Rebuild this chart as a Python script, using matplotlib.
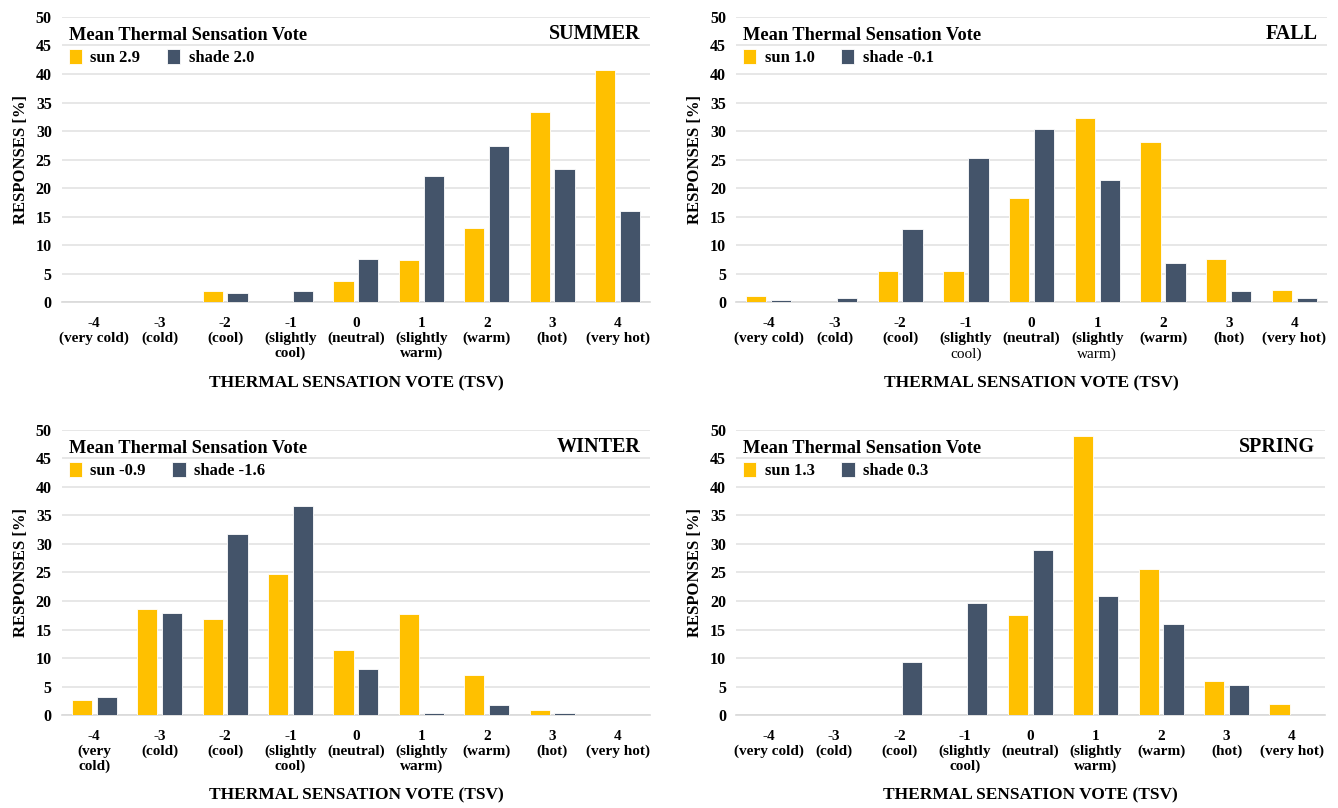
import matplotlib.pyplot as plt
import numpy as np

plt.rcParams['font.family'] = ['Liberation Serif', 'DejaVu Serif']
plt.rcParams['font.weight'] = 'bold'

# datos
votes = ["-4", "-3", "-2", "-1", "0", "1", "2", "3", "4"]
desc = ["(very cold)", "(cold)", "(cool)", "(slightly\ncool)", "(neutral)",
        "(slightly\nwarm)", "(warm)", "(hot)", "(very hot)"]
desc_winter = ["(very\ncold)", "(cold)", "(cool)", "(slightly\ncool)", "(neutral)",
               "(slightly\nwarm)", "(warm)", "(hot)", "(very hot)"]

summer_sun = [0, 0, 1.9, 0, 3.7, 7.4, 13.0, 33.3, 40.7]
summer_shade = [0, 0, 1.6, 2.0, 7.5, 22.2, 27.4, 23.4, 15.9]
fall_sun = [1.1, 0, 5.4, 5.4, 18.3, 32.3, 28.0, 7.5, 2.2]
fall_shade = [0.4, 0.8, 12.8, 25.2, 30.4, 21.4, 6.8, 1.9, 0.8]
winter_sun = [2.6, 18.6, 16.8, 24.8, 11.4, 17.7, 7.1, 0.9, 0]
winter_shade = [3.1, 17.9, 31.7, 36.6, 8.0, 0.4, 1.7, 0.4, 0]
spring_sun = [0, 0, 0, 0, 17.6, 49.0, 25.6, 5.9, 1.9]
spring_shade = [0, 0, 9.3, 19.6, 28.9, 20.9, 16.0, 5.3, 0]

seasons = ["SUMMER", "FALL", "WINTER", "SPRING"]
mean_sun = ["2.9", "1.0", "-0.9", "1.3"]
mean_shade = ["2.0", "-0.1", "-1.6", "0.3"]

sun_color = "#FFC000"
shade_color = "#44546A"

fig = plt.figure(figsize=(13.38, 8.08), dpi=100)
positions = [[0.046, 0.626, 0.440, 0.353],
             [0.550, 0.626, 0.442, 0.353],
             [0.046, 0.115, 0.440, 0.353],
             [0.550, 0.115, 0.440, 0.353]]
sun_data = [summer_sun, fall_sun, winter_sun, spring_sun]
shade_data = [summer_shade, fall_shade, winter_shade, spring_shade]

x = np.arange(len(votes))
w = 0.31
for k in range(4):
    ax = fig.add_axes(positions[k])
    ax.bar(x - 0.19, sun_data[k], w, color=sun_color, edgecolor="white", linewidth=0.6,
           label=f"sun {mean_sun[k]}", zorder=3)
    ax.bar(x + 0.19, shade_data[k], w, color=shade_color, edgecolor="white", linewidth=0.6,
           label=f"shade {mean_shade[k]}", zorder=3)
    ax.set_xlim(-0.5, 8.5)
    ax.set_ylim(0, 50)
    ax.set_yticks(range(0, 51, 5))
    ax.grid(axis="y", color="#E3E3E3", linewidth=1.2, zorder=0)
    for s in ["top", "right", "left"]:
        ax.spines[s].set_visible(False)
    ax.spines["bottom"].set_color("#D9D9D9")
    ax.spines["bottom"].set_linewidth(1.2)
    ax.tick_params(axis="y", length=0, labelsize=11.5, pad=7)
    ax.tick_params(axis="x", length=0, labelsize=11, pad=11)
    d = desc_winter if k == 2 else desc
    labels = [v + "\n" + t for v, t in zip(votes, d)]
    if k == 1:
        # en otono la segunda linea no va en negrita
        labels[3] = "-1\n(slightly"
        labels[5] = "1\n(slightly"
        for xi, txt in [(3, "cool)"), (5, "warm)")]:
            ax.annotate(txt, xy=(xi, 0), xycoords=("data", "axes fraction"),
                        xytext=(0, -37.5), textcoords="offset points",
                        ha="center", va="center", fontsize=11, fontweight="normal")
    ax.set_xticks(x)
    ax.set_xticklabels(labels, linespacing=1.13, fontweight="bold")
    for lb in ax.get_yticklabels():
        lb.set_fontweight("bold")
    ax.set_ylabel("RESPONSES [%]", fontsize=12, fontweight="bold", labelpad=5)
    ax.set_xlabel("THERMAL SENSATION VOTE (TSV)", fontsize=12.5, fontweight="bold")
    ax.xaxis.set_label_coords(0.5, -0.255)
    ax.text(0.983, 0.94, seasons[k], transform=ax.transAxes, ha="right", va="center",
            fontsize=14.5, fontweight="bold")
    leg = ax.legend(loc="upper left", bbox_to_anchor=(-0.005, 1.0), ncol=2, frameon=False,
                    title="Mean Thermal Sensation Vote", alignment="left",
                    prop={"size": 12, "weight": "bold"},
                    handlelength=0.8, handleheight=1.0, handletextpad=0.5,
                    columnspacing=1.6, borderaxespad=0.2, labelspacing=0.3)
    leg.get_title().set_fontsize(13.2)
    leg.get_title().set_fontweight("bold")

plt.savefig("out.png", dpi=100)
